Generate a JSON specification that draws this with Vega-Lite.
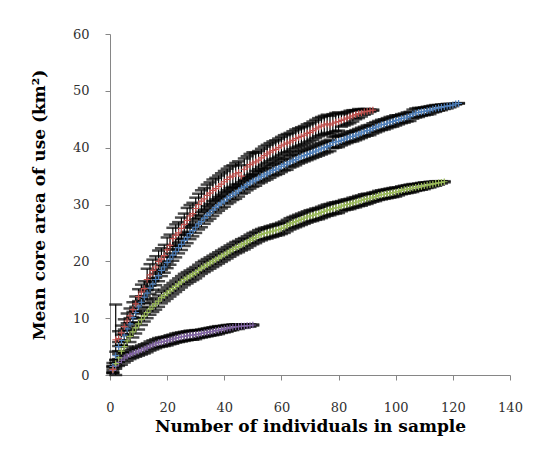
{
  "$schema": "https://vega.github.io/schema/vega-lite/v6.json",
  "width": 400,
  "height": 341,
  "autosize": {"type": "none"},
  "padding": {"left": 110, "top": 34, "right": 28, "bottom": 88},
  "background": "white",
  "config": {"view": {"stroke": null}},
  "datasets": {
    "d": [
      {"s":"P","n":1,"m":0.8,"e":0.5},{"s":"P","n":2,"m":1.6,"e":0.5},{"s":"P","n":3,"m":2.2,"e":0.6},{"s":"P","n":4,"m":2.6,"e":0.8},{"s":"P","n":5,"m":3.0,"e":0.8},{"s":"P","n":6,"m":3.3,"e":0.8},{"s":"P","n":7,"m":3.6,"e":0.8},{"s":"P","n":8,"m":3.8,"e":0.8},{"s":"P","n":9,"m":4.0,"e":0.8},{"s":"P","n":10,"m":4.2,"e":0.8},
      {"s":"P","n":11,"m":4.4,"e":0.8},{"s":"P","n":12,"m":4.6,"e":0.8},{"s":"P","n":13,"m":4.8,"e":0.8},{"s":"P","n":14,"m":5.1,"e":0.8},{"s":"P","n":15,"m":5.3,"e":0.8},{"s":"P","n":16,"m":5.5,"e":0.8},{"s":"P","n":17,"m":5.7,"e":0.8},{"s":"P","n":18,"m":5.8,"e":0.8},{"s":"P","n":19,"m":5.9,"e":0.8},{"s":"P","n":20,"m":6.0,"e":0.8},
      {"s":"P","n":21,"m":6.2,"e":0.8},{"s":"P","n":22,"m":6.3,"e":0.8},{"s":"P","n":23,"m":6.5,"e":0.8},{"s":"P","n":24,"m":6.6,"e":0.8},{"s":"P","n":25,"m":6.7,"e":0.8},{"s":"P","n":26,"m":6.8,"e":0.8},{"s":"P","n":27,"m":6.9,"e":0.8},{"s":"P","n":28,"m":7.0,"e":0.8},{"s":"P","n":29,"m":7.0,"e":0.8},{"s":"P","n":30,"m":7.1,"e":0.8},
      {"s":"P","n":31,"m":7.2,"e":0.7},{"s":"P","n":32,"m":7.3,"e":0.7},{"s":"P","n":33,"m":7.4,"e":0.7},{"s":"P","n":34,"m":7.5,"e":0.7},{"s":"P","n":35,"m":7.6,"e":0.7},{"s":"P","n":36,"m":7.7,"e":0.7},{"s":"P","n":37,"m":7.8,"e":0.7},{"s":"P","n":38,"m":7.9,"e":0.7},{"s":"P","n":39,"m":8.0,"e":0.6},{"s":"P","n":40,"m":8.1,"e":0.6},
      {"s":"P","n":41,"m":8.2,"e":0.6},{"s":"P","n":42,"m":8.3,"e":0.5},{"s":"P","n":43,"m":8.4,"e":0.5},{"s":"P","n":44,"m":8.5,"e":0.4},{"s":"P","n":45,"m":8.5,"e":0.4},{"s":"P","n":46,"m":8.6,"e":0.3},{"s":"P","n":47,"m":8.6,"e":0.3},{"s":"P","n":48,"m":8.7,"e":0.2},{"s":"P","n":49,"m":8.7,"e":0.2},{"s":"P","n":50,"m":8.8,"e":0.1},

      {"s":"G","n":1,"m":1.0,"e":0.5},{"s":"G","n":2,"m":2.0,"e":0.6},{"s":"G","n":3,"m":3.0,"e":0.7},{"s":"G","n":4,"m":4.2,"e":1.0},{"s":"G","n":5,"m":5.0,"e":1.0},{"s":"G","n":6,"m":6.0,"e":1.0},{"s":"G","n":7,"m":6.8,"e":1.0},{"s":"G","n":8,"m":7.6,"e":1.0},{"s":"G","n":9,"m":8.3,"e":1.0},{"s":"G","n":10,"m":9.0,"e":1.0},
      {"s":"G","n":11,"m":9.8,"e":1.0},{"s":"G","n":12,"m":10.4,"e":1.0},{"s":"G","n":13,"m":11.0,"e":1.0},{"s":"G","n":14,"m":11.6,"e":1.0},{"s":"G","n":15,"m":12.1,"e":1.0},{"s":"G","n":16,"m":12.5,"e":1.0},{"s":"G","n":17,"m":13.0,"e":1.0},{"s":"G","n":18,"m":13.6,"e":1.0},{"s":"G","n":19,"m":14.0,"e":1.0},{"s":"G","n":20,"m":14.4,"e":1.0},
      {"s":"G","n":21,"m":14.8,"e":1.0},{"s":"G","n":22,"m":15.2,"e":1.0},{"s":"G","n":23,"m":15.6,"e":1.0},{"s":"G","n":24,"m":16.0,"e":1.0},{"s":"G","n":25,"m":16.4,"e":1.0},{"s":"G","n":26,"m":16.8,"e":1.0},{"s":"G","n":27,"m":17.1,"e":1.0},{"s":"G","n":28,"m":17.4,"e":1.0},{"s":"G","n":29,"m":17.7,"e":1.0},{"s":"G","n":30,"m":18.0,"e":1.0},
      {"s":"G","n":31,"m":18.4,"e":1.0},{"s":"G","n":32,"m":18.8,"e":1.0},{"s":"G","n":33,"m":19.1,"e":1.0},{"s":"G","n":34,"m":19.4,"e":1.0},{"s":"G","n":35,"m":19.7,"e":1.0},{"s":"G","n":36,"m":20.0,"e":1.0},{"s":"G","n":37,"m":20.3,"e":1.0},{"s":"G","n":38,"m":20.6,"e":1.0},{"s":"G","n":39,"m":20.9,"e":1.0},{"s":"G","n":40,"m":21.2,"e":1.0},
      {"s":"G","n":41,"m":21.5,"e":1.0},{"s":"G","n":42,"m":21.8,"e":1.0},{"s":"G","n":43,"m":22.1,"e":1.0},{"s":"G","n":44,"m":22.4,"e":1.0},{"s":"G","n":45,"m":22.6,"e":1.0},{"s":"G","n":46,"m":22.9,"e":1.0},{"s":"G","n":47,"m":23.1,"e":1.0},{"s":"G","n":48,"m":23.4,"e":1.0},{"s":"G","n":49,"m":23.7,"e":1.0},{"s":"G","n":50,"m":24.0,"e":1.0},
      {"s":"G","n":51,"m":24.2,"e":1.0},{"s":"G","n":52,"m":24.5,"e":1.0},{"s":"G","n":53,"m":24.7,"e":1.0},{"s":"G","n":54,"m":24.9,"e":1.0},{"s":"G","n":55,"m":25.0,"e":1.0},{"s":"G","n":56,"m":25.2,"e":1.0},{"s":"G","n":57,"m":25.3,"e":1.0},{"s":"G","n":58,"m":25.5,"e":1.0},{"s":"G","n":59,"m":25.6,"e":1.0},{"s":"G","n":60,"m":25.8,"e":1.0},
      {"s":"G","n":61,"m":26.0,"e":1.0},{"s":"G","n":62,"m":26.3,"e":1.0},{"s":"G","n":63,"m":26.6,"e":1.0},{"s":"G","n":64,"m":26.8,"e":1.0},{"s":"G","n":65,"m":27.0,"e":1.0},{"s":"G","n":66,"m":27.2,"e":1.0},{"s":"G","n":67,"m":27.4,"e":1.0},{"s":"G","n":68,"m":27.6,"e":1.0},{"s":"G","n":69,"m":27.8,"e":1.0},{"s":"G","n":70,"m":28.0,"e":1.0},
      {"s":"G","n":71,"m":28.1,"e":1.0},{"s":"G","n":72,"m":28.3,"e":1.0},{"s":"G","n":73,"m":28.4,"e":1.0},{"s":"G","n":74,"m":28.6,"e":1.0},{"s":"G","n":75,"m":28.8,"e":1.0},{"s":"G","n":76,"m":29.0,"e":1.0},{"s":"G","n":77,"m":29.1,"e":1.0},{"s":"G","n":78,"m":29.3,"e":1.0},{"s":"G","n":79,"m":29.4,"e":1.0},{"s":"G","n":80,"m":29.5,"e":1.0},
      {"s":"G","n":81,"m":29.7,"e":0.9},{"s":"G","n":82,"m":29.9,"e":0.9},{"s":"G","n":83,"m":30.0,"e":0.9},{"s":"G","n":84,"m":30.1,"e":0.9},{"s":"G","n":85,"m":30.3,"e":0.9},{"s":"G","n":86,"m":30.4,"e":0.9},{"s":"G","n":87,"m":30.6,"e":0.9},{"s":"G","n":88,"m":30.7,"e":0.9},{"s":"G","n":89,"m":30.9,"e":0.9},{"s":"G","n":90,"m":31.0,"e":0.9},
      {"s":"G","n":91,"m":31.1,"e":0.8},{"s":"G","n":92,"m":31.3,"e":0.8},{"s":"G","n":93,"m":31.4,"e":0.8},{"s":"G","n":94,"m":31.6,"e":0.8},{"s":"G","n":95,"m":31.7,"e":0.8},{"s":"G","n":96,"m":31.8,"e":0.8},{"s":"G","n":97,"m":31.9,"e":0.8},{"s":"G","n":98,"m":32.0,"e":0.8},{"s":"G","n":99,"m":32.1,"e":0.8},{"s":"G","n":100,"m":32.2,"e":0.8},
      {"s":"G","n":101,"m":32.3,"e":0.7},{"s":"G","n":102,"m":32.5,"e":0.7},{"s":"G","n":103,"m":32.6,"e":0.7},{"s":"G","n":104,"m":32.7,"e":0.7},{"s":"G","n":105,"m":32.8,"e":0.7},{"s":"G","n":106,"m":32.9,"e":0.7},{"s":"G","n":107,"m":33.0,"e":0.6},{"s":"G","n":108,"m":33.1,"e":0.6},{"s":"G","n":109,"m":33.2,"e":0.6},{"s":"G","n":110,"m":33.3,"e":0.6},
      {"s":"G","n":111,"m":33.4,"e":0.5},{"s":"G","n":112,"m":33.5,"e":0.5},{"s":"G","n":113,"m":33.6,"e":0.4},{"s":"G","n":114,"m":33.7,"e":0.4},{"s":"G","n":115,"m":33.8,"e":0.3},{"s":"G","n":116,"m":33.9,"e":0.2},{"s":"G","n":117,"m":34.0,"e":0.1},

      {"s":"B","n":1,"m":1.5,"e":0.6},{"s":"B","n":2,"m":3.4,"e":0.7},{"s":"B","n":3,"m":5.0,"e":0.8},{"s":"B","n":4,"m":6.1,"e":1.0},{"s":"B","n":5,"m":7.0,"e":1.0},{"s":"B","n":6,"m":8.1,"e":1.0},{"s":"B","n":7,"m":9.0,"e":1.0},{"s":"B","n":8,"m":10.1,"e":1.0},{"s":"B","n":9,"m":11.0,"e":1.0},{"s":"B","n":10,"m":12.0,"e":1.0},
      {"s":"B","n":11,"m":12.8,"e":1.0},{"s":"B","n":12,"m":13.7,"e":1.0},{"s":"B","n":13,"m":14.4,"e":1.0},{"s":"B","n":14,"m":15.3,"e":1.0},{"s":"B","n":15,"m":16.0,"e":1.0},{"s":"B","n":16,"m":16.8,"e":1.0},{"s":"B","n":17,"m":17.5,"e":1.0},{"s":"B","n":18,"m":18.4,"e":1.0},{"s":"B","n":19,"m":19.0,"e":1.0},{"s":"B","n":20,"m":19.8,"e":1.0},
      {"s":"B","n":21,"m":20.4,"e":1.0},{"s":"B","n":22,"m":21.1,"e":1.0},{"s":"B","n":23,"m":21.7,"e":1.0},{"s":"B","n":24,"m":22.4,"e":1.0},{"s":"B","n":25,"m":23.0,"e":1.0},{"s":"B","n":26,"m":23.7,"e":1.0},{"s":"B","n":27,"m":24.2,"e":1.0},{"s":"B","n":28,"m":24.9,"e":1.0},{"s":"B","n":29,"m":25.4,"e":1.0},{"s":"B","n":30,"m":26.0,"e":1.0},
      {"s":"B","n":31,"m":26.6,"e":1.0},{"s":"B","n":32,"m":27.0,"e":1.0},{"s":"B","n":33,"m":27.6,"e":1.0},{"s":"B","n":34,"m":28.1,"e":1.0},{"s":"B","n":35,"m":28.5,"e":1.0},{"s":"B","n":36,"m":29.0,"e":1.0},{"s":"B","n":37,"m":29.5,"e":1.0},{"s":"B","n":38,"m":29.9,"e":1.0},{"s":"B","n":39,"m":30.3,"e":1.0},{"s":"B","n":40,"m":30.6,"e":1.0},
      {"s":"B","n":41,"m":31.1,"e":1.0},{"s":"B","n":42,"m":31.4,"e":1.0},{"s":"B","n":43,"m":31.8,"e":1.0},{"s":"B","n":44,"m":32.0,"e":1.0},{"s":"B","n":45,"m":32.4,"e":1.0},{"s":"B","n":46,"m":32.9,"e":1.0},{"s":"B","n":47,"m":33.1,"e":1.0},{"s":"B","n":48,"m":33.5,"e":1.0},{"s":"B","n":49,"m":33.8,"e":1.0},{"s":"B","n":50,"m":34.1,"e":1.0},
      {"s":"B","n":51,"m":34.3,"e":1.0},{"s":"B","n":52,"m":34.7,"e":1.0},{"s":"B","n":53,"m":34.9,"e":1.0},{"s":"B","n":54,"m":35.2,"e":1.0},{"s":"B","n":55,"m":35.4,"e":1.0},{"s":"B","n":56,"m":35.7,"e":1.0},{"s":"B","n":57,"m":36.0,"e":1.0},{"s":"B","n":58,"m":36.2,"e":1.0},{"s":"B","n":59,"m":36.4,"e":1.0},{"s":"B","n":60,"m":36.7,"e":1.0},
      {"s":"B","n":61,"m":37.0,"e":1.0},{"s":"B","n":62,"m":37.1,"e":1.0},{"s":"B","n":63,"m":37.5,"e":1.0},{"s":"B","n":64,"m":37.7,"e":1.0},{"s":"B","n":65,"m":37.9,"e":1.0},{"s":"B","n":66,"m":38.2,"e":1.0},{"s":"B","n":67,"m":38.4,"e":1.0},{"s":"B","n":68,"m":38.6,"e":1.0},{"s":"B","n":69,"m":38.8,"e":1.0},{"s":"B","n":70,"m":39.0,"e":1.0},
      {"s":"B","n":71,"m":39.2,"e":1.0},{"s":"B","n":72,"m":39.4,"e":1.0},{"s":"B","n":73,"m":39.6,"e":1.0},{"s":"B","n":74,"m":39.8,"e":1.0},{"s":"B","n":75,"m":40.0,"e":1.0},{"s":"B","n":76,"m":40.2,"e":1.0},{"s":"B","n":77,"m":40.4,"e":1.0},{"s":"B","n":78,"m":40.9,"e":1.0},{"s":"B","n":79,"m":41.0,"e":1.0},{"s":"B","n":80,"m":41.1,"e":1.0},
      {"s":"B","n":81,"m":41.3,"e":0.9},{"s":"B","n":82,"m":41.5,"e":0.9},{"s":"B","n":83,"m":41.7,"e":0.9},{"s":"B","n":84,"m":41.9,"e":0.9},{"s":"B","n":85,"m":42.0,"e":0.9},{"s":"B","n":86,"m":42.2,"e":0.9},{"s":"B","n":87,"m":42.4,"e":0.9},{"s":"B","n":88,"m":42.6,"e":0.9},{"s":"B","n":89,"m":42.8,"e":0.9},{"s":"B","n":90,"m":43.0,"e":0.9},
      {"s":"B","n":91,"m":43.1,"e":0.9},{"s":"B","n":92,"m":43.4,"e":0.9},{"s":"B","n":93,"m":43.6,"e":0.9},{"s":"B","n":94,"m":43.8,"e":0.9},{"s":"B","n":95,"m":44.0,"e":0.9},{"s":"B","n":96,"m":44.1,"e":0.9},{"s":"B","n":97,"m":44.3,"e":0.9},{"s":"B","n":98,"m":44.5,"e":0.9},{"s":"B","n":99,"m":44.6,"e":0.9},{"s":"B","n":100,"m":44.8,"e":0.9},
      {"s":"B","n":101,"m":44.9,"e":0.8},{"s":"B","n":102,"m":45.1,"e":0.8},{"s":"B","n":103,"m":45.2,"e":0.8},{"s":"B","n":104,"m":45.4,"e":0.8},{"s":"B","n":105,"m":45.5,"e":0.8},{"s":"B","n":106,"m":45.9,"e":0.8},{"s":"B","n":107,"m":46.1,"e":0.8},{"s":"B","n":108,"m":46.2,"e":0.8},{"s":"B","n":109,"m":46.3,"e":0.7},{"s":"B","n":110,"m":46.4,"e":0.7},
      {"s":"B","n":111,"m":46.5,"e":0.7},{"s":"B","n":112,"m":46.6,"e":0.7},{"s":"B","n":113,"m":46.8,"e":0.6},{"s":"B","n":114,"m":46.9,"e":0.6},{"s":"B","n":115,"m":47.0,"e":0.5},{"s":"B","n":116,"m":47.1,"e":0.5},{"s":"B","n":117,"m":47.2,"e":0.4},{"s":"B","n":118,"m":47.3,"e":0.4},{"s":"B","n":119,"m":47.4,"e":0.3},{"s":"B","n":120,"m":47.5,"e":0.2},
      {"s":"B","n":121,"m":47.7,"e":0.1},{"s":"B","n":122,"m":47.8,"e":0.05},

      {"s":"R","n":1,"m":1.0,"e":0.6},{"s":"R","n":2,"m":6.2,"e":6.2},{"s":"R","n":3,"m":6.4,"e":1.3},{"s":"R","n":4,"m":7.4,"e":1.3},{"s":"R","n":5,"m":8.5,"e":1.3},{"s":"R","n":6,"m":9.5,"e":1.3},{"s":"R","n":7,"m":10.4,"e":1.3},{"s":"R","n":8,"m":11.5,"e":1.3},{"s":"R","n":9,"m":12.5,"e":1.3},{"s":"R","n":10,"m":13.8,"e":1.3},
      {"s":"R","n":11,"m":14.6,"e":1.3},{"s":"R","n":12,"m":15.2,"e":1.3},{"s":"R","n":13,"m":16.8,"e":1.9},{"s":"R","n":14,"m":17.6,"e":1.9},{"s":"R","n":15,"m":18.4,"e":1.9},{"s":"R","n":16,"m":19.0,"e":1.9},{"s":"R","n":17,"m":20.0,"e":1.9},{"s":"R","n":18,"m":20.4,"e":1.9},{"s":"R","n":19,"m":21.0,"e":1.9},{"s":"R","n":20,"m":22.0,"e":2.2},
      {"s":"R","n":21,"m":22.8,"e":1.9},{"s":"R","n":22,"m":24.0,"e":1.9},{"s":"R","n":23,"m":24.6,"e":1.9},{"s":"R","n":24,"m":25.0,"e":1.9},{"s":"R","n":25,"m":25.8,"e":1.9},{"s":"R","n":26,"m":26.5,"e":1.9},{"s":"R","n":27,"m":27.2,"e":2.2},{"s":"R","n":28,"m":28.0,"e":1.9},{"s":"R","n":29,"m":28.4,"e":1.9},{"s":"R","n":30,"m":29.3,"e":1.9},
      {"s":"R","n":31,"m":30.0,"e":1.9},{"s":"R","n":32,"m":30.6,"e":1.9},{"s":"R","n":33,"m":31.0,"e":1.9},{"s":"R","n":34,"m":31.6,"e":1.9},{"s":"R","n":35,"m":32.0,"e":1.9},{"s":"R","n":36,"m":32.5,"e":1.9},{"s":"R","n":37,"m":32.8,"e":1.9},{"s":"R","n":38,"m":33.2,"e":1.9},{"s":"R","n":39,"m":33.6,"e":1.9},{"s":"R","n":40,"m":34.0,"e":1.9},
      {"s":"R","n":41,"m":34.4,"e":1.9},{"s":"R","n":42,"m":34.8,"e":1.9},{"s":"R","n":43,"m":35.0,"e":1.9},{"s":"R","n":44,"m":35.4,"e":1.9},{"s":"R","n":45,"m":35.6,"e":2.0},{"s":"R","n":46,"m":35.0,"e":1.9},{"s":"R","n":47,"m":36.2,"e":1.9},{"s":"R","n":48,"m":36.6,"e":1.9},{"s":"R","n":49,"m":37.0,"e":1.9},{"s":"R","n":50,"m":37.3,"e":1.9},
      {"s":"R","n":51,"m":37.5,"e":1.6},{"s":"R","n":52,"m":37.8,"e":1.6},{"s":"R","n":53,"m":38.2,"e":1.6},{"s":"R","n":54,"m":38.6,"e":1.6},{"s":"R","n":55,"m":38.9,"e":1.6},{"s":"R","n":56,"m":39.2,"e":1.6},{"s":"R","n":57,"m":39.5,"e":1.6},{"s":"R","n":58,"m":39.7,"e":1.6},{"s":"R","n":59,"m":40.0,"e":1.6},{"s":"R","n":60,"m":40.3,"e":1.6},
      {"s":"R","n":61,"m":40.6,"e":1.6},{"s":"R","n":62,"m":40.8,"e":1.6},{"s":"R","n":63,"m":41.0,"e":1.6},{"s":"R","n":64,"m":41.3,"e":1.6},{"s":"R","n":65,"m":41.6,"e":1.6},{"s":"R","n":66,"m":41.8,"e":1.6},{"s":"R","n":67,"m":42.0,"e":1.6},{"s":"R","n":68,"m":42.2,"e":1.6},{"s":"R","n":69,"m":42.5,"e":1.6},{"s":"R","n":70,"m":42.7,"e":1.6},
      {"s":"R","n":71,"m":43.0,"e":1.6},{"s":"R","n":72,"m":43.3,"e":1.6},{"s":"R","n":73,"m":43.6,"e":1.6},{"s":"R","n":74,"m":43.8,"e":1.6},{"s":"R","n":75,"m":44.0,"e":1.6},{"s":"R","n":76,"m":44.2,"e":1.6},{"s":"R","n":77,"m":44.0,"e":1.6},{"s":"R","n":78,"m":44.3,"e":1.6},{"s":"R","n":79,"m":44.5,"e":1.6},{"s":"R","n":80,"m":44.6,"e":1.6},
      {"s":"R","n":81,"m":44.8,"e":1.1},{"s":"R","n":82,"m":45.0,"e":1.1},{"s":"R","n":83,"m":45.2,"e":1.1},{"s":"R","n":84,"m":45.4,"e":1.1},{"s":"R","n":85,"m":45.6,"e":1.0},{"s":"R","n":86,"m":45.8,"e":0.8},{"s":"R","n":87,"m":46.0,"e":0.8},{"s":"R","n":88,"m":46.1,"e":0.6},{"s":"R","n":89,"m":46.3,"e":0.5},{"s":"R","n":90,"m":46.4,"e":0.4},
      {"s":"R","n":91,"m":46.5,"e":0.2},{"s":"R","n":92,"m":46.6,"e":0.1}
    ]
  },
  "data": {"name": "d"},
  "encoding": {
    "x": {
      "field": "n", "type": "quantitative",
      "scale": {"domain": [0, 140], "nice": false},
      "axis": {
        "values": [0, 20, 40, 60, 80, 100, 120, 140],
        "title": "Number of individuals in sample",
        "grid": false, "labelFlush": false,
        "domainColor": "#868686", "tickColor": "#868686", "tickSize": 5,
        "labelFont": "DejaVu Serif", "labelFontSize": 13, "labelColor": "#303030", "labelPadding": 21,
        "titleFont": "DejaVu Serif", "titleFontSize": 17, "titleFontWeight": "bold", "titleColor": "black", "titlePadding": 4
      }
    },
    "y": {
      "field": "m", "type": "quantitative",
      "scale": {"domain": [0, 60], "nice": false},
      "axis": {
        "values": [0, 10, 20, 30, 40, 50, 60],
        "title": "Mean core area of use (km²)",
        "grid": false, "labelFlush": false,
        "domainColor": "#868686", "tickColor": "#868686", "tickSize": 5,
        "labelFont": "DejaVu Serif", "labelFontSize": 13, "labelColor": "#303030", "labelPadding": 16,
        "titleFont": "DejaVu Serif", "titleFontSize": 17, "titleFontWeight": "bold", "titleColor": "black", "titlePadding": 24
      }
    }
  },
  "layer": [
    {
      "mark": {"type": "errorbar", "color": "black", "ticks": {"size": 13, "thickness": 2.5, "color": "black"}, "rule": {"strokeWidth": 1.2, "color": "black"}},
      "encoding": {
        "yError": {"field": "e"}
      }
    },
    {
      "mark": {"type": "point", "shape": "M-1,0H1M0,-1V1", "size": 45, "filled": false, "strokeWidth": 1.2, "opacity": 1},
      "encoding": {
        "color": {
          "field": "s", "type": "nominal", "legend": null,
          "scale": {"domain": ["R", "B", "G", "P"], "range": ["#C0504D", "#4F81BD", "#9BBB59", "#8064A2"]}
        }
      }
    }
  ]
}
